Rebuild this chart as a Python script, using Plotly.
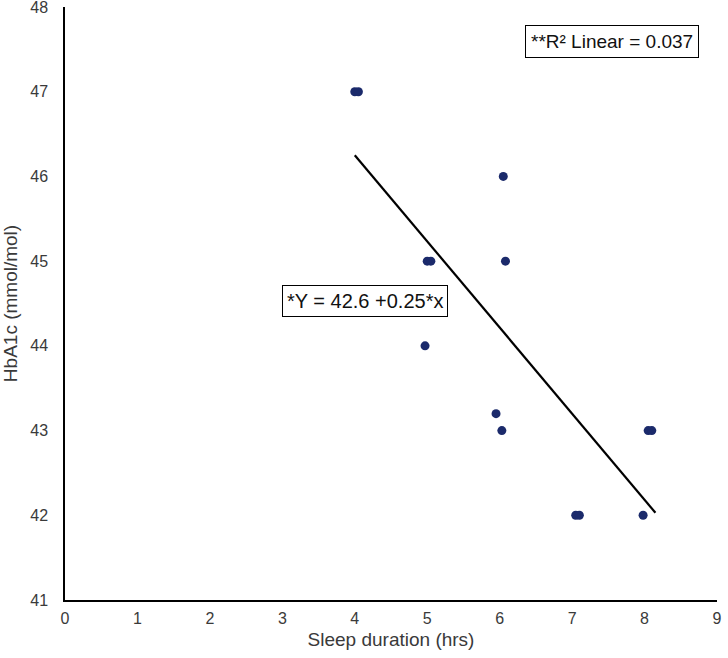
import plotly.graph_objects as go

# Sleep duration (hrs) vs HbA1c (mmol/mol)
sleep_hrs = [4.0, 4.05, 6.05, 5.0, 5.05, 6.08, 4.97, 5.95, 6.03, 8.05, 8.1, 7.05, 7.1, 7.98]
hba1c = [47, 47, 46, 45, 45, 45, 44, 43.2, 43, 43, 43, 42, 42, 42]

# fitted line end points as drawn
fit_x = [4.0, 8.15]
fit_y = [46.25, 42.03]

points = go.Scatter(
    x=sleep_hrs, y=hba1c,
    mode="markers",
    marker=dict(color="#1b2a6b", size=9),
    hoverinfo="x+y",
)

fit_line = go.Scatter(
    x=fit_x, y=fit_y,
    mode="lines",
    line=dict(color="black", width=2.2),
    hoverinfo="none",
)

fig = go.Figure(
    data=[points, fit_line],
    layout=go.Layout(
        width=728, height=658,
        showlegend=False,
        plot_bgcolor="white",
        paper_bgcolor="white",
        font=dict(family="Liberation Sans, Arial", size=16, color="#3a3a3a"),
        margin=dict(l=65, r=11, t=7, b=58),
        xaxis=dict(
            range=[0, 9], dtick=1, showgrid=False, zeroline=False,
            showline=True, linecolor="black", linewidth=1.5,
            ticks="", ticklabelstandoff=3, ticklabeloverflow="allow",
            automargin=False,
            title=dict(text="Sleep duration (hrs)", standoff=7),
        ),
        yaxis=dict(
            range=[41, 48], dtick=1, showgrid=False, zeroline=False,
            showline=True, linecolor="black", linewidth=1.5,
            ticks="", ticklabelstandoff=12, ticklabeloverflow="allow",
            automargin=False,
            title=dict(text="HbA1c (mmol/mol)", standoff=11),
        ),
        annotations=[
            dict(
                text="**R² Linear = 0.037", x=7.55, y=47.59,
                showarrow=False, bordercolor="black", borderwidth=1,
                borderpad=5, font=dict(size=19, color="#111"),
            ),
            dict(
                text="*Y = 42.6 +0.25*x", x=4.14, y=44.53,
                showarrow=False, bordercolor="black", borderwidth=1,
                borderpad=4, font=dict(size=20, color="#111"), bgcolor="white",
            ),
        ],
    ),
)

# drop the default body margin so the figure sits at the page corner
fig.write_html(
    "out.html",
    config={"displayModeBar": False},
    post_script="document.body.style.margin='0';",
)
